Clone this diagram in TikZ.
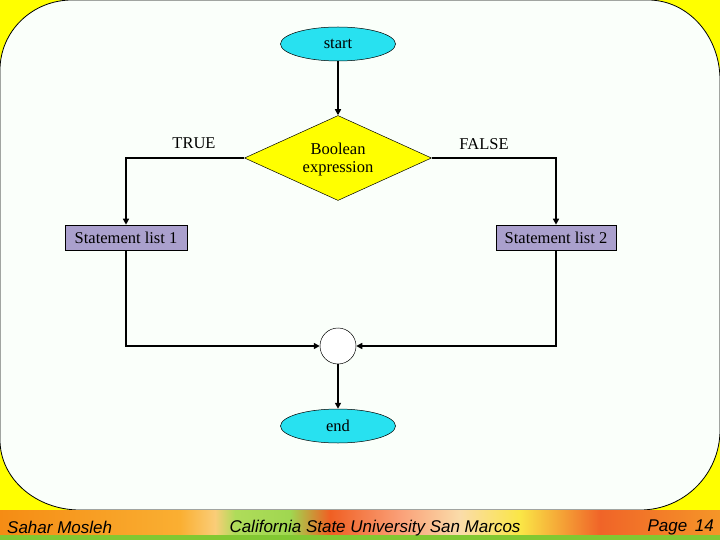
\documentclass[tikz,border=0pt]{standalone}
\usepackage{fontspec}
\setmainfont{Liberation Serif}
\newfontfamily\footfont{Liberation Sans}
\usetikzlibrary{shapes.geometric,arrows.meta}
\definecolor{bgyellow}{RGB}{255,255,0}
\definecolor{pagewhite}{RGB}{250,255,250}
\definecolor{termcyan}{RGB}{40,225,240}
\definecolor{declyellow}{RGB}{255,255,0}
\definecolor{stmtpurple}{RGB}{170,160,205}
\definecolor{footgreen}{RGB}{130,200,50}
\definecolor{fo1}{RGB}{245,140,20}
\definecolor{fo2}{RGB}{250,175,50}
\definecolor{fo3}{RGB}{250,205,120}
\definecolor{fg1}{RGB}{175,220,90}
\definecolor{fg2}{RGB}{160,215,80}
\definecolor{fr1}{RGB}{240,95,35}
\definecolor{fp1}{RGB}{250,160,120}
\definecolor{fp2}{RGB}{250,220,170}
\definecolor{fy1}{RGB}{250,230,70}
\definecolor{fr2}{RGB}{240,100,40}
\definecolor{fo4}{RGB}{245,150,40}
\tikzset{
  lbl/.style={font=\fontsize{16.5}{18}\selectfont, text=black},
  term/.style={ellipse, draw=black, line width=0.5pt, fill=termcyan, minimum width=115pt, minimum height=34pt, inner sep=0pt, lbl},
  decision/.style={diamond, draw=black, line width=0.5pt, fill=declyellow, minimum width=187pt, minimum height=85pt, aspect=2.2, inner sep=0pt},
  stmtbox/.style={rectangle, draw=black, line width=0.6pt, fill=stmtpurple, minimum height=25pt, inner sep=0pt, lbl},
  joinpt/.style={circle, draw=black, line width=0.5pt, fill=white, minimum size=36pt, inner sep=0pt},
  arr/.style={line width=1.7pt, -{Triangle[width=6pt,length=6pt]}},
  foot/.style={font=\footfont\itshape\fontsize{17}{19}\selectfont, text=black, inner sep=0pt}
}
\begin{document}
\begin{tikzpicture}[x=1pt,y=-1pt]
\useasboundingbox (0,0) rectangle (720,540);
% background
\fill[bgyellow] (0,0) rectangle (720,540);
\fill[pagewhite, draw=black, line width=0.8pt]
  (0,70) .. controls (0,31.3) and (32.2,0) .. (72,0)
  -- (648,0) .. controls (687.8,0) and (720,35.8) .. (720,80)
  -- (720,430) .. controls (720,474.2) and (684.2,510) .. (640,510)
  -- (80,510) .. controls (35.8,510) and (0,478.7) .. (0,440) -- cycle;
% footer bar
\shade[left color=fo1, right color=fo2] (0,510) rectangle (180,536);
\shade[left color=fo2, right color=fo3] (180,510) rectangle (215,536);
\shade[left color=fo3, right color=fg1] (215,510) rectangle (235,536);
\shade[left color=fg1, right color=fg2] (235,510) rectangle (290,536);
\shade[left color=fg2, right color=fr1] (290,510) rectangle (330,536);
\shade[left color=fr1, right color=fp1] (330,510) rectangle (400,536);
\shade[left color=fp1, right color=fp2] (400,510) rectangle (460,536);
\shade[left color=fp2, right color=fy1] (460,510) rectangle (520,536);
\shade[left color=fy1, right color=fr2] (520,510) rectangle (600,536);
\shade[left color=fr2, right color=fo4] (600,510) rectangle (720,536);
\fill[footgreen] (0,535) rectangle (720,540);
\node[foot, anchor=west] (author) at (7,527) {Sahar Mosleh};
\node[foot] (univ) at (375,528) {California State University San Marcos};
\node[foot, anchor=east] (page) at (714,527) {Page\, 14};
% flowchart
\node[term] (start) at (338,44) {start};
\node[decision] (dec) at (338,158) {};
\node[lbl, align=center] (dectext) at (338,160) {Boolean\\expression};
\node[lbl] (true) at (194,143) {TRUE};
\node[lbl] (false) at (484,144) {FALSE};
\node[stmtbox, minimum width=122pt] (s1) at (126,237.5) {Statement list 1};
\node[stmtbox, minimum width=120pt] (s2) at (556,237.5) {Statement list 2};
\node[joinpt] (join) at (338,346) {};
\node[term] (end) at (338,426) {end};
\draw[arr] (start) -- (dec);
\draw[arr] (dec.west) -| (s1.north);
\draw[arr] (dec.east) -| (s2.north);
\draw[arr] (s1.south) |- (join.west);
\draw[arr] (s2.south) |- (join.east);
\draw[arr] (join) -- (end);
\end{tikzpicture}
\end{document}
